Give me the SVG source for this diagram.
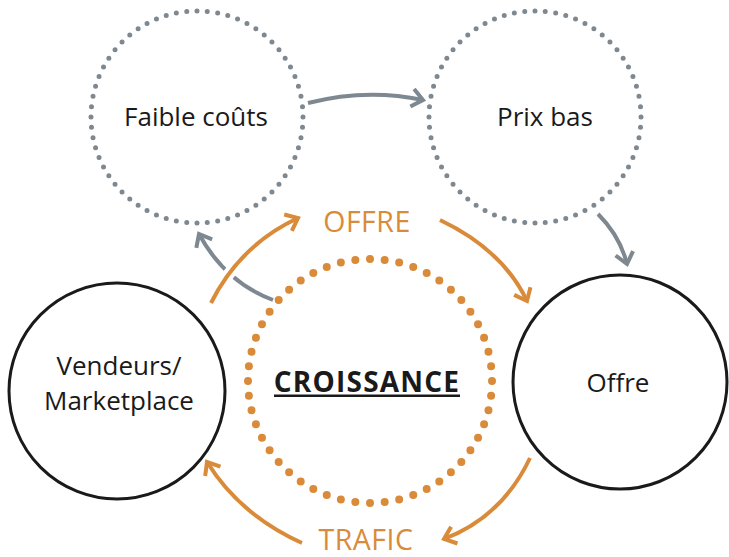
<svg xmlns="http://www.w3.org/2000/svg" width="729" height="557" viewBox="0 0 729 557">
  <style>
    .lbl { font-family: "Open Sans", "Noto Sans", "DejaVu Sans", sans-serif; font-size: 26px; fill: #1a1a1a; text-anchor: middle; }
    .flow { font-family: "Open Sans", "Noto Sans", "DejaVu Sans", sans-serif; font-size: 28.5px; fill: #D98B3A; text-anchor: middle; letter-spacing: 0.5px; }
    .core { font-family: "Open Sans", "Noto Sans", "DejaVu Sans", sans-serif; font-size: 28px; font-weight: bold; fill: #1a1a1a; text-anchor: middle; letter-spacing: 1.2px; }
    .dotted-gray { fill: none; stroke: #7E8890; stroke-width: 5; stroke-linecap: round; stroke-dasharray: 0 1; }
    .dotted-orange { fill: none; stroke: #D98B3A; stroke-width: 8; stroke-linecap: round; stroke-dasharray: 0 1; }
    .solid { fill: #fff; stroke: #1a1a1a; stroke-width: 3; }
    .g-arrow { fill: none; stroke: #7E8890; stroke-width: 4; marker-end: url(#headGray); }
    .o-arrow { fill: none; stroke: #D98B3A; stroke-width: 4; marker-end: url(#headOrange); }
    .halo { fill: none; stroke: #fff; stroke-width: 12; }
  </style>
  <defs>
    <marker id="headGray" markerUnits="userSpaceOnUse" markerWidth="30" markerHeight="30" viewBox="-15 -15 30 30" refX="0" refY="0" orient="auto">
      <path d="M-11,-9 L0,0 L-11,9" fill="none" stroke="#7E8890" stroke-width="4" stroke-linecap="butt" stroke-linejoin="miter"/>
    </marker>
    <marker id="headOrange" markerUnits="userSpaceOnUse" markerWidth="30" markerHeight="30" viewBox="-15 -15 30 30" refX="0" refY="0" orient="auto">
      <path d="M-11,-9 L0,0 L-11,9" fill="none" stroke="#D98B3A" stroke-width="4" stroke-linecap="butt" stroke-linejoin="miter"/>
    </marker>
  </defs>

  <rect width="729" height="557" fill="#fff"/>

  <!-- nodes -->
  <g id="faible-couts">
    <circle class="dotted-gray" cx="197" cy="117" r="106" pathLength="64"/>
    <text class="lbl" x="196" y="126">Faible coûts</text>
  </g>
  <g id="prix-bas">
    <circle class="dotted-gray" cx="535" cy="117" r="106" pathLength="64"/>
    <text class="lbl" x="545" y="126">Prix bas</text>
  </g>
  <g id="croissance">
    <circle class="dotted-orange" cx="370" cy="381" r="122" pathLength="52"/>
    <text class="core" x="367" y="392">CROISSANCE</text>
    <rect x="274" y="394.5" width="186" height="2.5" fill="#1a1a1a"/>
  </g>
  <g id="vendeurs">
    <circle class="solid" cx="117" cy="391" r="108"/>
    <text class="lbl" x="119" y="375">Vendeurs/</text>
    <text class="lbl" x="119" y="410">Marketplace</text>
  </g>
  <g id="offre">
    <circle class="solid" cx="620" cy="382" r="107"/>
    <text class="lbl" x="618" y="392">Offre</text>
  </g>

  <!-- connectors -->
  <g id="connectors">
    <path class="g-arrow" d="M308,103 Q366,88 423,100"/>
    <path class="g-arrow" d="M598,214 Q620,236 627,264"/>
    <path class="g-arrow" d="M273,300 Q225,282 199,234"/>
    <path class="halo" d="M211,303 Q240,245 298,218"/>
    <path class="o-arrow" d="M211,303 Q240,245 298,218"/>
    <path class="o-arrow" d="M440,220 Q503,250 527,301"/>
    <path class="o-arrow" d="M530,458 Q502,517 444,539"/>
    <path class="o-arrow" d="M302,543 Q240,515 207,462"/>
    <text class="flow" x="367" y="232">OFFRE</text>
    <text class="flow" x="366" y="550">TRAFIC</text>
  </g>
</svg>
